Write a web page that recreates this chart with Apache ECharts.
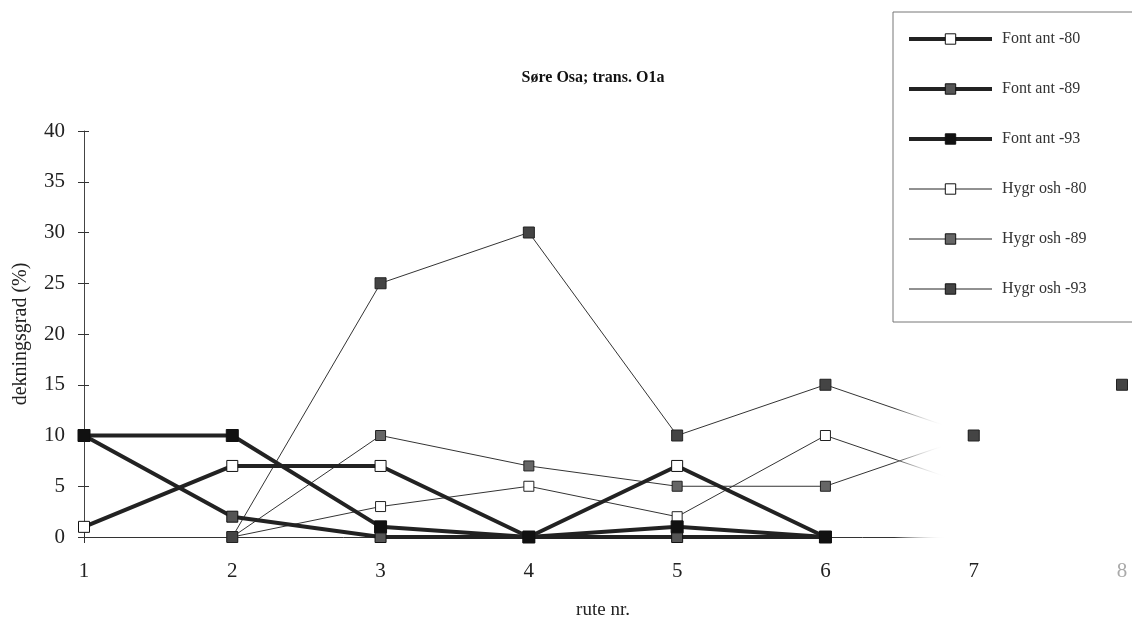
<!DOCTYPE html>
<html><head><meta charset="utf-8">
<script src="https://cdn.jsdelivr.net/npm/echarts@6/dist/echarts.min.js"></script>
<style>html,body{margin:0;padding:0;background:#fff}#c{width:1132px;height:620px}</style>
</head><body><div id="c"></div>
<script>
var categories = ['1','2','3','4','5','6','7','8'];
var fontAnt80 = [1, 7, 7, 0, 7, 0, null, null];
var fontAnt89 = [10, 2, 0, 0, 0, 0, null, null];
var fontAnt93 = [10, 10, 1, 0, 1, 0, null, null];
var hygrOsh80 = [null, 0, 3, 5, 2, 10, 5, null];
var hygrOsh89 = [null, 0, 10, 7, 5, 5, 10, null];
var hygrOsh93 = [null, 0, 25, 30, 10, 15, 10, 15];
var yTicks = [0, 5, 10, 15, 20, 25, 30, 35, 40];
var seriesNames = ['Font ant -80','Font ant -89','Font ant -93','Hygr osh -80','Hygr osh -89','Hygr osh -93'];

var SERIF = '"Liberation Serif","Times New Roman",serif';
function fade(c){
  return new echarts.graphic.LinearGradient(0,0,1132,0,[
    {offset:0, color:c},{offset:0.79, color:c},{offset:0.835, color:'rgba(255,255,255,0)'},{offset:1, color:'rgba(255,255,255,0)'}
  ], true);
}
var chart = echarts.init(document.getElementById('c'));
function thick(name, data, fill, size){
  return {name:name, type:'line', data:data, symbol:'rect', symbolSize:size,
    lineStyle:{width:4, color:fade('#222')}, itemStyle:{color:fill, borderColor:'#111', borderWidth:1}, z:3};
}
function thin(name, data, fill, size){
  return {name:name, type:'line', data:data, symbol:'rect', symbolSize:size,
    lineStyle:{width:1, color:fade('#333')}, itemStyle:{color:fill, borderColor:'#222', borderWidth:1}, z:2};
}
var h80 = thin(seriesNames[3], hygrOsh80, '#fff', 10);
h80.symbolSize = function(v, p){ return p.dataIndex >= 6 ? 0 : 10; };

var legendData = seriesNames.map(function(n, i){
  return {name:n, lineStyle:{width: i < 3 ? 4 : 1, color:'#222'},
    itemStyle:{borderWidth:1, borderColor:'#111'}};
});
chart.setOption({
  animation:false,
  title:{text:'Søre Osa; trans. O1a', left:588, top:65, textAlign:'center',
    textStyle:{fontFamily:SERIF, fontWeight:'bold', fontSize:16, color:'#111'}},
  legend:{orient:'vertical', left:893, top:12, padding:[19,50,25,14], itemGap:34,
    itemWidth:83, itemHeight:13, borderColor:'#777', borderWidth:1,
    textStyle:{fontFamily:SERIF, fontSize:16, color:'#333', padding:[0,0,0,5]},
    data:legendData},
  grid:{left:84, right:10, top:131, bottom:83, outerBoundsMode:'none', containLabel:false},
  xAxis:[{type:'category', data:categories, boundaryGap:false,
    name:'rute nr.', nameLocation:'middle', nameGap:64,
    nameTextStyle:{fontFamily:SERIF, fontSize:19, color:'#222'},
    axisLine:{lineStyle:{color:fade('#333'), width:1}},
    axisTick:{show:true, length:6, alignWithLabel:true, lineStyle:{color:fade('#333')}},
    axisLabel:{fontFamily:SERIF, fontSize:21, margin:24,
      color:function(v){ return v==='8' ? '#aaa' : '#222'; }},
    splitLine:{show:false}},
   {type:'category', data:categories, boundaryGap:false, position:'bottom',
    axisLine:{show:false}, axisLabel:{show:false},
    axisTick:{show:true, inside:true, length:5, lineStyle:{color:fade('#333')}}, splitLine:{show:false}}],
  yAxis:[{type:'value', min:0, max:40, interval:5,
    name:'dekningsgrad (%)', nameLocation:'middle', nameGap:53, nameRotate:90,
    nameTextStyle:{fontFamily:SERIF, fontSize:20, color:'#222'},
    axisLine:{show:true, lineStyle:{color:'#444'}},
    axisTick:{show:true, length:6, lineStyle:{color:'#333'}},
    axisLabel:{fontFamily:SERIF, fontSize:21, color:'#222', margin:19,
      formatter:function(v){ return yTicks.indexOf(v) >= 0 ? String(v) : ''; }},
    splitLine:{show:false}},
   {type:'value', min:0, max:40, interval:5, position:'left',
    axisLine:{show:false}, axisLabel:{show:false},
    axisTick:{show:true, inside:true, length:5, lineStyle:{color:'#333'}}, splitLine:{show:false}}],
  series:[
    h80,
    thin(seriesNames[4], hygrOsh89, '#666', 10),
    thin(seriesNames[5], hygrOsh93, '#444', 11),
    thick(seriesNames[0], fontAnt80, '#fff', 11),
    thick(seriesNames[1], fontAnt89, '#555', 11),
    thick(seriesNames[2], fontAnt93, '#111', 12)
  ]
});
</script></body></html>
